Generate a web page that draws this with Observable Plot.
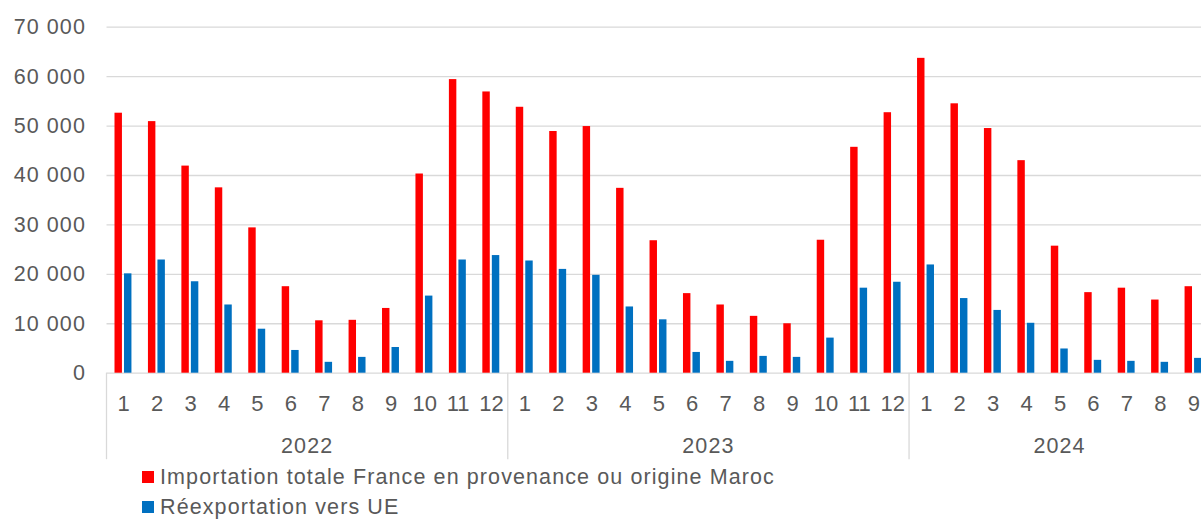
<!DOCTYPE html>
<html>
<head>
<meta charset="utf-8">
<script src="https://cdn.jsdelivr.net/npm/d3@7"></script>
<script src="https://cdn.jsdelivr.net/npm/@observablehq/plot@0.6"></script>
<style>
  html, body { margin: 0; padding: 0; overflow: hidden; background: #fff; }
  body { width: 1201px; height: 519px; font-family: "Liberation Sans", Arial, sans-serif; }
  #chart { width: 1210px; height: 462px; overflow: visible; }
  #chart svg { display: block; max-width: none !important; width: 1210px !important; height: 462px !important; letter-spacing: 1.1px; }
  #chart svg g[aria-label="x-axis tick label"] { letter-spacing: 0; }
  .legend { margin-left: 142px; color: #595959; font-size: 21.5px; letter-spacing: 1.1px; }
  .legend .row { display: flex; align-items: center; height: 30px; line-height: 30px; white-space: nowrap; }
  .legend .sw { width: 12px; height: 12px; margin-right: 6px; flex: none; }
</style>
</head>
<body>
<div id="chart"></div>
<div class="legend" id="legend"></div>
<script>
const years = ["2022", "2023", "2024"];
const monthsPerYear = [12, 12, 9];
const seriesNames = ["Importation totale France en provenance ou origine Maroc", "Réexportation vers UE"];
const seriesColors = ["#FF0000", "#0070C0"];
const importValues = [
  52600, 50900, 41900, 37500, 29400, 17500, 10600, 10700, 13100, 40300, 59400, 56900,
  53800, 48900, 49900, 37400, 26800, 16100, 13800, 11500, 10000, 26900, 45700, 52700,
  63700, 54500, 49500, 43000, 25700, 16300, 17200, 14800, 17500
];
const reexportValues = [
  20100, 22900, 18500, 13800, 8900, 4600, 2200, 3200, 5200, 15600, 22900, 23800,
  22700, 21000, 19800, 13400, 10800, 4200, 2400, 3400, 3200, 7100, 17200, 18400,
  21900, 15100, 12700, 10100, 4900, 2600, 2400, 2200, 3000
];
const yTicks = [0, 10000, 20000, 30000, 40000, 50000, 60000, 70000];

// build table
const rows = [];
years.forEach((yr, yi) => {
  for (let m = 1; m <= monthsPerYear[yi]; m++) {
    const i = rows.length;
    rows.push({key: yr + "-" + m, year: yr, month: m, imp: importValues[i], reex: reexportValues[i]});
  }
});
const keys = rows.map(d => d.key);
const monthOf = new Map(rows.map(d => [d.key, String(d.month)]));
const fmt = v => d3.format(",")(v).replace(/,/g, " ");
const textColor = "#595959";
const gridColor = "#d9d9d9";

function yearAxis(index, scales, values, dimensions) {
  const x = scales.x, y = scales.y;
  const bw = x(keys[1]) - x(keys[0]);
  const base = y(0);
  const g = d3.create("svg:g");
  years.forEach(yr => {
    const ks = keys.filter(k => k.startsWith(yr + "-"));
    const x0 = x(ks[0]);
    const x1 = x(ks[ks.length - 1]) + bw;
    g.append("line")
      .attr("x1", x0).attr("x2", x0)
      .attr("y1", base).attr("y2", base + 86.5)
      .attr("stroke", gridColor).attr("stroke-width", 1.3);
    g.append("text")
      .attr("x", (x0 + x1) / 2).attr("y", base + 80.5)
      .attr("text-anchor", "middle")
      .attr("fill", textColor)
      .text(yr);
  });
  return g.node();
}

const chart = Plot.plot({
  width: 1210,
  height: 462,
  marginLeft: 106.5,
  marginRight: 0,
  marginTop: 26.7,
  marginBottom: 89.3,
  style: {fontFamily: "'Liberation Sans', Arial, sans-serif", fontSize: "21.5px", color: textColor, background: "#fff", maxWidth: "none"},
  x: {type: "band", domain: keys, padding: 0, round: false, axis: null},
  y: {domain: [0, 70000], axis: null},
  marks: [
    Plot.gridY(yTicks, {stroke: gridColor, strokeOpacity: 1, strokeWidth: 1.3}),
    Plot.barY(rows, {x: "key", y: "imp", fill: seriesColors[0], insetLeft: 8, insetRight: 18}),
    Plot.barY(rows, {x: "key", y: "reex", fill: seriesColors[1], insetLeft: 17.5, insetRight: 8.5}),
    Plot.axisY(yTicks, {tickSize: 0, tickPadding: 21, tickFormat: fmt, fill: textColor, label: null}),
    Plot.axisX(keys, {tickSize: 0, tickPadding: 22, tickFormat: k => monthOf.get(k), fill: textColor, fontSize: 22, label: null}),
    yearAxis
  ]
});
document.getElementById("chart").appendChild(chart);

const legend = d3.select("#legend");
seriesNames.forEach((name, i) => {
  const row = legend.append("div").attr("class", "row");
  row.append("div").attr("class", "sw").style("background", seriesColors[i]);
  row.append("span").text(name);
});
</script>
</body>
</html>
